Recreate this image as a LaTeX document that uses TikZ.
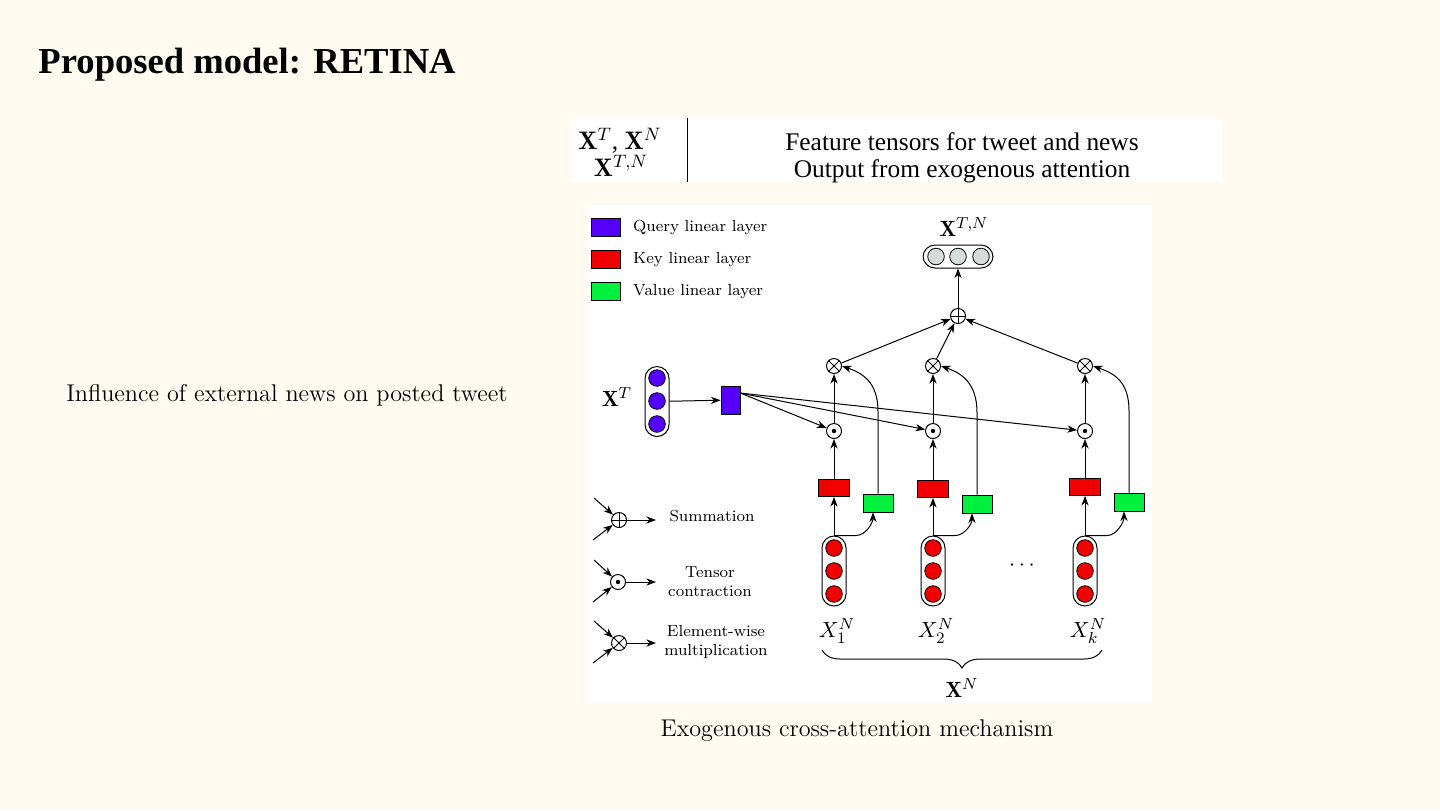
\documentclass[tikz,border=0pt]{standalone}
\usepackage{fontspec}
\newfontfamily\timesfont{Liberation Serif}
\usetikzlibrary{arrows.meta,positioning,decorations.pathreplacing,calc}

\definecolor{slidebg}{HTML}{FFFBF0}
\definecolor{qblue}{HTML}{5500FF}
\definecolor{kred}{HTML}{F00000}
\definecolor{vgreen}{HTML}{00F040}
\definecolor{outgray}{HTML}{D6DDD9}

\begin{document}
\begin{tikzpicture}[
    x=0.5pt, y=-0.5pt,
    >={Stealth[length=4.8pt,width=3.6pt,inset=1.5pt]},
    line width=0.5pt,
    op node/.style={circle,draw,fill=white,inner sep=0pt,minimum size=7.5pt},
    sum node/.style={op node,path picture={\draw (path picture bounding box.north) -- (path picture bounding box.south) (path picture bounding box.west) -- (path picture bounding box.east);}},
    dot node/.style={op node,path picture={\fill[black] (path picture bounding box.center) circle[radius=1.1pt];}},
    mul node/.style={op node,path picture={\draw (path picture bounding box.north west) -- (path picture bounding box.south east) (path picture bounding box.north east) -- (path picture bounding box.south west);}},
    unit node/.style={circle,draw,inner sep=0pt,minimum size=8.3pt,line width=0.4pt},
    capsule node/.style={draw,fill=white,rounded corners=6pt,inner sep=0pt,minimum width=12pt,minimum height=35pt},
    layer node/.style={draw,inner sep=0pt,line width=0.4pt},
    key node/.style={layer node,fill=kred,minimum width=15.5pt,minimum height=8.5pt},
    value node/.style={layer node,fill=vgreen,minimum width=15pt,minimum height=9pt},
    query node/.style={layer node,fill=qblue,minimum width=9.5pt,minimum height=14pt},
    legend box/.style={layer node,minimum width=14.5pt,minimum height=9pt},
    legend text/.style={font=\fontsize{8}{9.5}\selectfont,align=center},
    math label/.style={font=\fontsize{11}{12}\selectfont,inner sep=1pt},
    table text/.style={font=\timesfont\fontsize{12.7}{15}\selectfont}
]

% Slide
\useasboundingbox (0,0) rectangle (1440,810);
\fill[slidebg] (0,0) rectangle (1440,810);
\node[anchor=base west,inner sep=0pt,font=\timesfont\bfseries\fontsize{18.3}{22}\selectfont] (title) at (38,73) {Proposed model: RETINA};
\node[font=\fontsize{12.1}{14}\selectfont] (influence) at (287,395) {Influence of external news on posted tweet};
\node[font=\fontsize{12.1}{14}\selectfont] (caption) at (857,731) {Exogenous cross-attention mechanism};

% Notation table
\fill[white] (572,118) rectangle (1222,182);
\draw[line width=0.5pt] (687,118) -- (687,182);
\node[table text] (sym1) at (620,141) {$\mathbf{X}^T$, $\mathbf{X}^N$};
\node[table text] (sym2) at (621,166) {$\mathbf{X}^{T,N}$};
\node[table text] (desc1) at (962,142) {Feature tensors for tweet and news};
\node[table text] (desc2) at (962,171) {Output from exogenous attention};

% Figure
\fill[white] (588,205) rectangle (1152,703);

% Legend
\node[legend box,fill=qblue] (qbox) at (605.5,227) {};
\node[legend box,fill=kred] (kbox) at (605.5,259.5) {};
\node[legend box,fill=vgreen] (vbox) at (605.5,291.5) {};
\node[legend text,anchor=west] at (626,227) {Query linear layer};
\node[legend text,anchor=west] at (626,259.5) {Key linear layer};
\node[legend text,anchor=west] at (626,291.5) {Value linear layer};

\node[sum node] (legsum) at (619,520) {};
\node[dot node] (legdot) at (618,582) {};
\node[mul node] (legmul) at (619,643) {};
\foreach \op/\yy in {legsum/520, legdot/582, legmul/643} {
  \coordinate (\op in1) at (594,\yy-22);
  \coordinate (\op in2) at (593,\yy+20);
  \coordinate (\op out) at (656,\yy);
  \draw[->] (\op in1) -- (\op);
  \draw[->] (\op in2) -- (\op);
  \draw[->] (\op) -- (\op out);
}
\node[legend text] at (712,516) {Summation};
\node[legend text] at (710,582) {Tensor\\contraction};
\node[legend text] at (716,642) {Element-wise\\multiplication};

% Tweet input and query
\node[capsule node] (tweet) at (657,401.5) {};
\foreach \yy in {378,401,424}
  \node[unit node,fill=qblue] at (657,\yy) {};
\node[math label] (tweetlbl) at (617,397) {$\mathbf{X}^T$};
\node[query node] (query) at (730.5,400) {};
\draw[->] (tweet) -- (query);

% Output
\node[sum node] (sum) at (958,316) {};
\node[capsule node,minimum width=35pt,minimum height=11.5pt] (out) at (958,256.5) {};
\foreach \xx in {936,958,981}
  \node[unit node,fill=outgray] at (\xx,256.5) {};
\node[math label] (outlbl) at (964,227) {$\mathbf{X}^{T,N}$};
\draw[->] (sum) -- (out);

% News columns
\foreach \i/\cx/\ky/\vx/\vy/\sub in {1/834/488/878/503/1, 2/933/489/977/504/2, 3/1085/487/1129/502/k} {
  \node[capsule node] (news\i) at (\cx,571) {};
  \foreach \yy in {548,571,594}
    \node[unit node,fill=kred] at (\cx,\yy) {};
  \node[math label] (newslbl\i) at (\cx+3,631) {$X_{\sub}^N$};
  \node[key node] (key\i) at (\cx,\ky) {};
  \node[value node] (val\i) at (\vx,\vy) {};
  \node[dot node] (dot\i) at (\cx,431) {};
  \node[mul node] (mul\i) at (\cx,366) {};
  % Arrows
  \draw[->] (news\i) -- (key\i);
  \draw[->] (news\i.north) -- ++(22,0) .. controls +(10,0) and +(0,10) .. ($(val\i.south)+(-5,0)$);
  \draw[->] (key\i) -- (dot\i);
  \draw[->] (dot\i) -- (mul\i);
  \draw[->] (val\i.north) -- ++(0,-82) .. controls +(0,-30) and +(20,7) .. (mul\i.east);
  \draw[->] (query.35) -- (dot\i);
  \draw[->] (mul\i) -- (sum);
}
\node[math label] (dots) at (1022,566) {$\cdots$};

% Brace
\draw[decorate,decoration={brace,amplitude=9pt,mirror}] (822,650) -- (1102,650);
\node[math label] (newsall) at (962,688) {$\mathbf{X}^N$};

\end{tikzpicture}
\end{document}
